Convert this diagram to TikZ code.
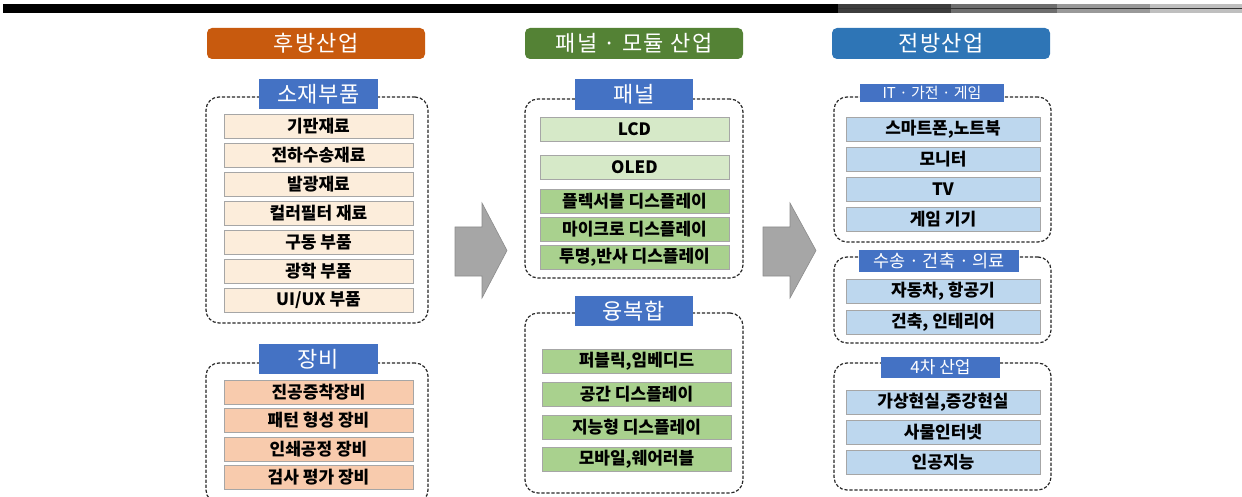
\documentclass[tikz,border=0pt]{standalone}
\usepackage{fontspec}
\setmainfont{Noto Sans CJK KR}
\definecolor{hdorange}{HTML}{C85A0E}
\definecolor{hdgreen}{HTML}{548235}
\definecolor{hdblue}{HTML}{2E75B6}
\definecolor{tagblue}{HTML}{4472C4}
\definecolor{cream}{HTML}{FCEDDB}
\definecolor{salmon}{HTML}{F8CBAD}
\definecolor{palegreen}{HTML}{D6E9C8}
\definecolor{midgreen}{HTML}{A9D18E}
\definecolor{paleblue}{HTML}{BDD7EE}
\definecolor{arrowgray}{HTML}{A6A6A6}
\tikzset{
  header/.style={rounded corners=5pt, text=white, inner sep=0pt,
    minimum width=218pt, minimum height=31pt,
    font=\fontsize{22}{25}\selectfont\addfontfeature{LetterSpace=6}},
  tag/.style={fill=tagblue, text=white, inner sep=0pt,
    font=\fontsize{22}{25}\selectfont\addfontfeature{LetterSpace=3}},
  group/.style={draw=black!85, dashed, dash pattern=on 3.2pt off 1.8pt,
    line width=1.2pt, rounded corners=13pt, inner sep=0pt},
  item/.style={draw=black!35, line width=0.8pt, inner sep=0pt,
    minimum height=24pt, font=\bfseries\fontsize{17}{19}\selectfont},
  leftitem/.style={item, minimum width=189pt},
  miditem/.style={item, minimum width=189pt},
  rightitem/.style={item, minimum width=194pt},
  blockarrow/.style={fill=arrowgray, draw=black!45, line width=0.6pt}
}
\begin{document}
\begin{tikzpicture}[x=1pt, y=-1pt]
\useasboundingbox (0,0) rectangle (1242,497);
\clip (0,0) rectangle (1242,497);

% top rule
\fill[black] (3,4) rectangle (838,13);
\fill[black!76] (838,4) rectangle (951,13);
\fill[black!57] (951,4) rectangle (1057,13);
\fill[black!40] (1057,4) rectangle (1150,13);
\fill[black!25] (1150,4) rectangle (1242,13);
\draw[black!80, line width=1pt] (838,8.5) -- (1242,8.5);

% column headers
\node[header, fill=hdorange] (hback) at (316,43.5) {후방산업};
\node[header, fill=hdgreen] (hpanel) at (634,43.5) {패널 · 모듈 산업};
\node[header, fill=hdblue] (hfront) at (941,43.5) {전방산업};

% ---- back-end industry ----
\node[group, minimum width=222pt, minimum height=226pt] (gmat) at (317,210) {};
\node[tag, minimum width=119pt, minimum height=30pt] (tmat) at (318.5,94) {소재부품};
\node[leftitem, fill=cream] (m1) at (318.5,126) {기판재료};
\node[leftitem, fill=cream] (m2) at (318.5,155) {전하수송재료};
\node[leftitem, fill=cream] (m3) at (318.5,184) {발광재료};
\node[leftitem, fill=cream] (m4) at (318.5,213) {컬러필터 재료};
\node[leftitem, fill=cream] (m5) at (318.5,242) {구동 부품};
\node[leftitem, fill=cream] (m6) at (318.5,271) {광학 부품};
\node[leftitem, fill=cream] (m7) at (318.5,300) {UI/UX 부품};

\node[group, minimum width=222pt, minimum height=140pt] (geq) at (317,433) {};
\node[tag, minimum width=119pt, minimum height=30pt] (teq) at (318.5,359) {장비};
\node[leftitem, fill=salmon] (e1) at (318.5,392) {진공증착장비};
\node[leftitem, fill=salmon] (e2) at (318.5,420) {패턴 형성 장비};
\node[leftitem, fill=salmon] (e3) at (318.5,449) {인쇄공정 장비};
\node[leftitem, fill=salmon] (e4) at (318.5,477) {검사 평가 장비};

% ---- panel / module industry ----
\node[group, minimum width=218pt, minimum height=179pt] (gpan) at (634,188.5) {};
\node[tag, minimum width=118pt, minimum height=31pt] (tpan) at (634,94.5) {패널};
\node[miditem, fill=palegreen] (p1) at (634.5,129) {LCD};
\node[miditem, fill=palegreen] (p2) at (634.5,167) {OLED};
\node[miditem, fill=midgreen] (p3) at (634.5,201) {플렉서블 디스플레이};
\node[miditem, fill=midgreen] (p4) at (634.5,229) {마이크로 디스플레이};
\node[miditem, fill=midgreen] (p5) at (634.5,257) {투명,반사 디스플레이};

\node[group, minimum width=218pt, minimum height=180pt] (gcon) at (634,403) {};
\node[tag, minimum width=118pt, minimum height=30pt] (tcon) at (634,311) {융복합};
\node[miditem, fill=midgreen] (c1) at (636.5,361) {퍼블릭,임베디드};
\node[miditem, fill=midgreen] (c2) at (636.5,394) {공간 디스플레이};
\node[miditem, fill=midgreen] (c3) at (636.5,427) {지능형 디스플레이};
\node[miditem, fill=midgreen] (c4) at (636.5,459) {모바일,웨어러블};

% ---- front-end industry ----
\node[group, minimum width=217pt, minimum height=145pt] (git) at (942.5,169.5) {};
\node[tag, minimum width=144pt, minimum height=18pt, font=\fontsize{15}{17}\selectfont] (tit) at (932,93) {IT · 가전 · 게임};
\node[rightitem, fill=paleblue] (i1) at (943,129) {스마트폰,노트북};
\node[rightitem, fill=paleblue] (i2) at (943,159) {모니터};
\node[rightitem, fill=paleblue] (i3) at (943,189) {TV};
\node[rightitem, fill=paleblue] (i4) at (943,219) {게임 기기};

\node[group, minimum width=217pt, minimum height=86pt] (gtr) at (942.5,300) {};
\node[tag, minimum width=160pt, minimum height=22pt, font=\fontsize{17.5}{19}\selectfont] (ttr) at (939,261) {수송 · 건축 · 의료};
\node[rightitem, fill=paleblue] (r1) at (943,291.5) {자동차, 항공기};
\node[rightitem, fill=paleblue] (r2) at (943,322) {건축, 인테리어};

\node[group, minimum width=217pt, minimum height=127pt] (g4th) at (942.5,426.5) {};
\node[tag, minimum width=119pt, minimum height=21pt, font=\fontsize{17}{19}\selectfont] (t4th) at (940.5,367.5) {4차 산업};
\node[rightitem, fill=paleblue] (f1) at (943,402.5) {가상현실,증강현실};
\node[rightitem, fill=paleblue] (f2) at (943,432) {사물인터넷};
\node[rightitem, fill=paleblue] (f3) at (943,462) {인공지능};

% block arrows between the columns
\draw[blockarrow] (455,227) -- (482,227) -- (482,203) -- (507,250.5)
  -- (482,298) -- (482,276) -- (455,276) -- cycle;
\draw[blockarrow] (763,227) -- (790,227) -- (790,203) -- (816,250.5)
  -- (790,298) -- (790,276) -- (763,276) -- cycle;
\end{tikzpicture}
\end{document}
